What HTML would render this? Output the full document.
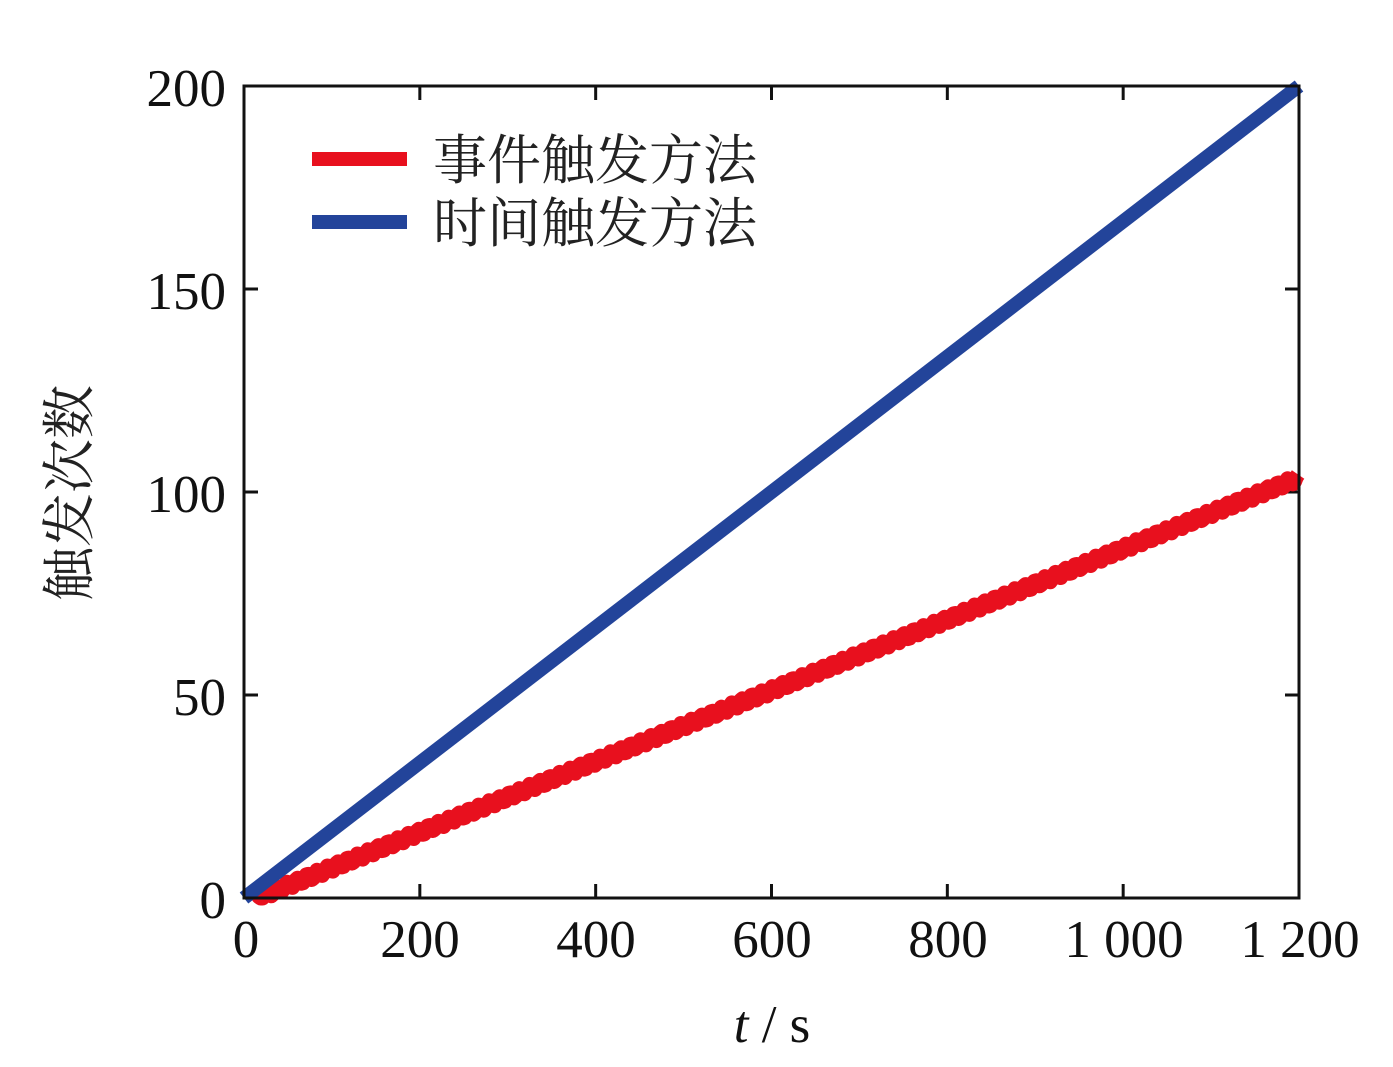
<!DOCTYPE html>
<html><head><meta charset="utf-8"><style>body{margin:0;background:#fff}</style></head><body>
<svg id="s" width="1393" height="1062" xmlns="http://www.w3.org/2000/svg" font-family="'Liberation Serif','Noto Serif CJK SC',serif">
<rect width="1393" height="1062" fill="#fff"/>
<g id="ticks" stroke="#111" stroke-width="3"></g>
<polyline id="red" fill="none" stroke="#e8101e" stroke-width="15" stroke-linejoin="round"/>
<line x1="244" y1="898" x2="1299" y2="86" stroke="#23449a" stroke-width="14"/>
<rect x="244" y="86" width="1055" height="812" fill="none" stroke="#111" stroke-width="3"/>
<g font-size="53" fill="#111" text-anchor="end">
<text x="226" y="918">0</text><text x="226" y="715">50</text><text x="226" y="512">100</text><text x="226" y="309">150</text><text x="226" y="106">200</text>
</g>
<g font-size="53" fill="#111" text-anchor="middle">
<text x="246" y="957">0</text><text x="420" y="957">200</text><text x="596" y="957">400</text><text x="772" y="957">600</text><text x="948" y="957">800</text><text x="1124" y="957">1 000</text><text x="1300" y="957">1 200</text>
<text x="772" y="1042"><tspan font-style="italic">t</tspan> / s</text>
</g>
<text transform="translate(88,493) rotate(-90)" font-size="54" fill="#222" text-anchor="middle">触发次数</text>
<line x1="312" y1="159" x2="407" y2="159" stroke="#e8101e" stroke-width="14"/>
<line x1="312" y1="222" x2="407" y2="222" stroke="#23449a" stroke-width="14"/>
<g font-size="54" fill="#222"><text x="433" y="179">事件触发方法</text><text x="433" y="242">时间触发方法</text></g>
</svg>
<script>
var sx=t=>244+t*1055/1200, sy=v=>898-v*812/200;
var g=document.getElementById('ticks'),h='';
for(var t=0;t<=1200;t+=200){var x=sx(t);h+=`<line x1="${x}" y1="898" x2="${x}" y2="884"/><line x1="${x}" y1="86" x2="${x}" y2="100"/>`;}
for(var v=0;v<=200;v+=50){var y=sy(v);h+=`<line x1="244" y1="${y}" x2="258" y2="${y}"/><line x1="1299" y1="${y}" x2="1285" y2="${y}"/>`;}
g.innerHTML=h;
var p=[];
for(var t=15;t<=1200;t+=2){var v=(t-15)*103.5/1185+0.9*Math.sin(t/11.5*2*Math.PI);if(v<0)v=0;p.push(sx(t).toFixed(1)+','+sy(v).toFixed(1));}
document.getElementById('red').setAttribute('points',p.join(' '));
</script>
</body></html>
